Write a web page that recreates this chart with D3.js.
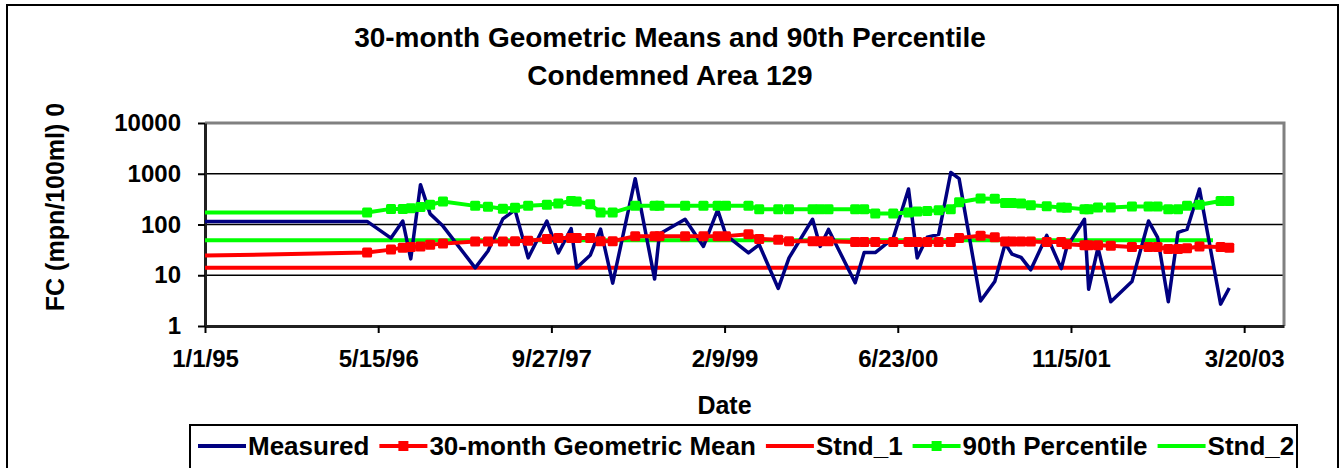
<html>
<head>
<script src="https://d3js.org/d3.v7.min.js"></script>
<style>
  body { margin: 0; background: white; }
  text { font-family: "Liberation Sans", Arial, sans-serif; font-weight: bold; fill: black; }
</style>
</head>
<body>
<svg width="1340" height="468"></svg>
<script>
// chart text
var titleLines = ["30-month Geometric Means and 90th Percentile", "Condemned Area 129"];
var yTitle = "FC (mpn/100ml) 0";
var xTitle = "Date";

// axis ticks
var xTickLabels = ["1/1/95", "5/15/96", "9/27/97", "2/9/99", "6/23/00", "11/5/01", "3/20/03"];
var xAxisEnd = "7/13/03";
var yTicks = [1, 10, 100, 1000, 10000];

// sample dates (first one is the lead-in point at the axis start)
var dates = ["1/1/95", "4/13/96", "6/21/96", "7/25/96", "8/17/96", "9/14/96", "10/12/96", "11/18/96",
  "2/19/97", "3/28/97", "5/10/97", "6/14/97", "7/22/97", "9/14/97", "10/17/97", "11/23/97", "12/9/97",
  "1/17/98", "2/16/98", "3/23/98", "5/27/98", "7/22/98", "8/5/98", "10/18/98", "12/10/98",
  "1/20/99", "2/13/99", "4/19/99", "5/20/99", "7/14/99", "8/14/99", "10/21/99", "11/12/99", "12/6/99",
  "2/21/00", "3/18/00", "4/19/00", "6/10/00", "7/24/00", "8/18/00", "9/16/00", "10/19/00", "11/23/00", "12/17/00",
  "2/17/01", "3/30/01", "4/29/01", "5/19/01", "6/14/01", "7/12/01", "8/27/01", "10/8/01", "10/24/01", "12/14/01", "12/26/01",
  "1/22/02", "2/28/02", "4/30/02", "6/17/02", "7/13/02", "8/13/02", "9/10/02", "10/6/02", "11/11/02",
  "1/11/03", "2/5/03"];

var measured = [115, 115, 54, 117, 21, 610, 162, 93,
  14, 30, 129, 194, 22, 117, 27.5, 83, 14,
  24.7, 81, 7, 800, 8.4, 65, 127, 37,
  194, 62, 27.5, 40, 5.5, 22, 127, 37, 80,
  7.1, 28, 28, 54, 500, 22, 56, 64, 1060, 800,
  3.1, 7.5, 42, 26, 22.5, 12.8, 61, 13.5, 36, 127, 5.3,
  35, 3.0, 7.5, 117, 56, 3.0, 70, 80, 500,
  2.7, 5.6];

var geoMean = [24.4, 28, 32, 35, 36, 37, 40, 42,
  46, 46, 46, 47, 48, 52, 54, 54, 54,
  54, 47, 47, 59, 59, 59, 59, 59,
  59, 59, 64, 52, 50, 47, 47, 47, 47,
  45, 45, 45, 45, 45, 45, 45, 45, 45, 54,
  60, 56, 46, 46, 46, 46, 45, 45, 41, 39, 39,
  39, 38, 36, 36, 36, 33, 33, 34, 37,
  36, 35];

var p90 = [172, 172, 203, 203, 210, 220, 244, 284,
  233, 225, 205, 215, 235, 244, 260, 290, 285,
  250, 172, 172, 233, 233, 233, 233, 233,
  233, 233, 233, 200, 200, 200, 200, 200, 200,
  200, 200, 165, 165, 172, 180, 185, 190, 200, 275,
  325, 320, 265, 265, 260, 240, 230, 217, 215, 200, 200,
  217, 217, 227, 227, 227, 200, 200, 235, 245,
  290, 290];

// standards
var stndDates = ["1/1/95", "12/20/02"];
var stnd1 = [14, 14];
var stnd2 = [49, 49];

var parse = d3.timeParse("%m/%d/%y");
var fmt = d3.timeFormat("%-m/%-d/%y");

var svg = d3.select("svg");
var plotLeft = 205, plotRight = 1284, plotTop = 123, plotBottom = 326;

var x = d3.scaleTime().domain([parse(dates[0]), parse(xAxisEnd)]).range([plotLeft, plotRight]);
var y = d3.scaleLog().domain([1, 10000]).range([plotBottom, plotTop]);

// outer frame
svg.append("rect").attr("x", 7).attr("y", 5).attr("width", 1331).attr("height", 480)
  .attr("fill", "white").attr("stroke", "black").attr("stroke-width", 2);

// titles
svg.append("text").attr("x", 670).attr("y", 47).attr("text-anchor", "middle")
  .style("font-size", "28px").text(titleLines[0]);
svg.append("text").attr("x", 670).attr("y", 85).attr("text-anchor", "middle")
  .style("font-size", "28px").text(titleLines[1]);

// gridlines
svg.append("g").selectAll("line").data(yTicks.slice(1, 4)).enter().append("line")
  .attr("x1", plotLeft).attr("x2", plotRight)
  .attr("y1", function(d) { return y(d); }).attr("y2", function(d) { return y(d); })
  .attr("stroke", "black").attr("stroke-width", 1.5);

// plot border (top and right)
svg.append("path").attr("d", "M" + plotLeft + "," + plotTop + "H" + plotRight + "V" + plotBottom)
  .attr("fill", "none").attr("stroke", "#808080").attr("stroke-width", 3);

// axes
var xAxis = d3.axisBottom(x).tickValues(xTickLabels.map(parse)).tickFormat(fmt)
  .tickSize(7).tickSizeOuter(0).tickPadding(17);
var gx = svg.append("g").attr("transform", "translate(0," + plotBottom + ")").call(xAxis);
gx.select(".domain").attr("stroke", "#202020").attr("stroke-width", 3);
gx.selectAll(".tick line").attr("stroke", "black").attr("stroke-width", 2);
gx.selectAll("text").style("font-size", "24px").attr("fill", "black");

var yAxis = d3.axisLeft(y).tickValues(yTicks).tickFormat(d3.format("d"))
  .tickSize(7).tickSizeOuter(0).tickPadding(17);
var gy = svg.append("g").attr("transform", "translate(" + plotLeft + ",0)").call(yAxis);
gy.select(".domain").attr("stroke", "#202020").attr("stroke-width", 3);
gy.selectAll(".tick line").attr("stroke", "black").attr("stroke-width", 2);
gy.selectAll("text").style("font-size", "24px").attr("fill", "black");

// axis titles
svg.append("text").attr("x", (plotLeft + 1244) / 2).attr("y", 414).attr("text-anchor", "middle")
  .style("font-size", "25px").text(xTitle);
svg.append("text").attr("transform", "translate(64,207) rotate(-90)").attr("text-anchor", "middle")
  .style("font-size", "25px").text(yTitle);

// series
function pts(ds, vs) {
  return ds.map(function(d, i) { return [x(parse(d)), y(vs[i])]; });
}
var line = d3.line();

function drawLine(p, color, width) {
  svg.append("path").attr("d", line(p)).attr("fill", "none")
    .attr("stroke", color).attr("stroke-width", width).attr("stroke-linejoin", "round");
}
function drawMarkers(p, color) {
  svg.append("g").selectAll("rect").data(p.slice(1)).enter().append("rect")
    .attr("x", function(d) { return d[0] - 5; }).attr("y", function(d) { return d[1] - 5; })
    .attr("width", 10).attr("height", 10).attr("rx", 1.5).attr("fill", color);
}

drawLine(pts(stndDates, stnd1), "#ff0000", 4);
drawLine(pts(stndDates, stnd2), "#00ff00", 4);
drawLine(pts(dates, measured), "#000080", 3.5);
var pp = pts(dates, p90);
drawLine(pp, "#00ff00", 4);
drawMarkers(pp, "#00ff00");
var pm = pts(dates, geoMean);
drawLine(pm, "#ff0000", 4);
drawMarkers(pm, "#ff0000");

// legend
var legendItems = [
  {name: "Measured", color: "#000080", marker: false},
  {name: "30-month Geometric Mean", color: "#ff0000", marker: true},
  {name: "Stnd_1", color: "#ff0000", marker: false},
  {name: "90th Percentile", color: "#00ff00", marker: true},
  {name: "Stnd_2", color: "#00ff00", marker: false}
];
svg.append("rect").attr("x", 190).attr("y", 425).attr("width", 1107).attr("height", 60)
  .attr("fill", "white").attr("stroke", "black").attr("stroke-width", 2);
var lx = 198, ly = 446;
legendItems.forEach(function(it) {
  svg.append("line").attr("x1", lx).attr("x2", lx + 48).attr("y1", ly).attr("y2", ly)
    .attr("stroke", it.color).attr("stroke-width", 4);
  if (it.marker) {
    svg.append("rect").attr("x", lx + 24 - 5).attr("y", ly - 5).attr("width", 10).attr("height", 10)
      .attr("fill", it.color);
  }
  var t = svg.append("text").attr("x", lx + 50).attr("y", ly).attr("dy", "0.35em")
    .style("font-size", "26px").text(it.name);
  lx = lx + 50 + t.node().getComputedTextLength() + 10;
});
</script>
</body>
</html>
